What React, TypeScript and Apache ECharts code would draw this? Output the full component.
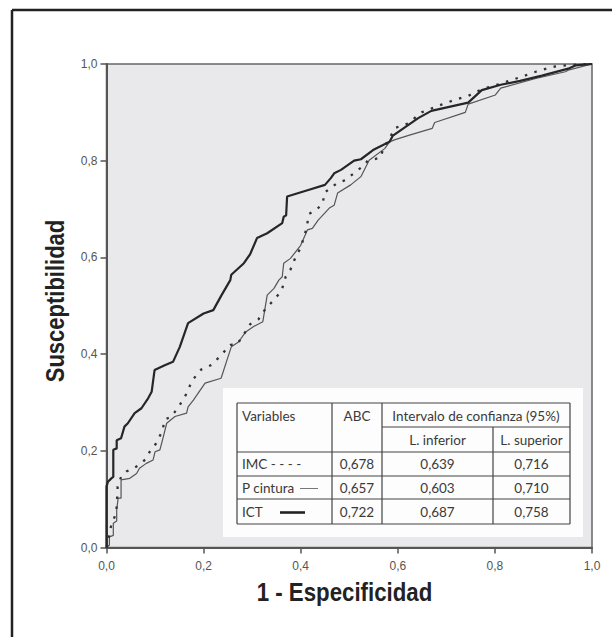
import React, { useEffect, useRef } from "react";
import * as echarts from "echarts";

const xTicks = [0, 0.2, 0.4, 0.6, 0.8, 1.0];
const seriesNames = ["P cintura", "IMC", "ICT"];

const ictX = [0,0,0.003,0.010,0.014,0.014,0.021,0.021,0.030,0.037,0.044,0.058,0.072,0.086,0.093,0.099,0.120,0.137,0.151,0.168,0.2,0.22,0.237,0.255,0.257,0.283,0.296,0.31,0.331,0.362,0.365,0.37,0.372,0.414,0.45,0.462,0.469,0.483,0.51,0.524,0.549,0.583,0.59,0.642,0.669,0.745,0.773,0.812,0.852,0.897,0.953,0.966,1];
const ictY = [0,0.126,0.136,0.143,0.146,0.202,0.205,0.222,0.226,0.25,0.257,0.278,0.288,0.309,0.322,0.367,0.377,0.384,0.415,0.464,0.484,0.491,0.522,0.553,0.564,0.588,0.607,0.64,0.65,0.671,0.684,0.687,0.726,0.739,0.75,0.764,0.774,0.781,0.8,0.803,0.822,0.839,0.852,0.888,0.903,0.92,0.946,0.957,0.965,0.976,0.991,0.997,1];

const cinX = [0,0.006,0.006,0.014,0.014,0.021,0.021,0.024,0.03,0.03,0.048,0.062,0.068,0.082,0.096,0.1,0.11,0.117,0.124,0.141,0.165,0.168,0.179,0.186,0.203,0.236,0.257,0.272,0.286,0.303,0.322,0.331,0.345,0.355,0.362,0.365,0.379,0.4,0.414,0.424,0.436,0.459,0.469,0.476,0.503,0.524,0.541,0.573,0.583,0.593,0.624,0.671,0.676,0.739,0.745,0.801,0.812,0.884,0.945,0.953,1];
const cinY = [0,0.005,0.022,0.025,0.05,0.055,0.078,0.102,0.102,0.14,0.143,0.153,0.164,0.174,0.181,0.198,0.202,0.229,0.257,0.271,0.278,0.291,0.305,0.315,0.34,0.35,0.415,0.425,0.445,0.457,0.467,0.522,0.536,0.553,0.56,0.588,0.598,0.625,0.657,0.66,0.677,0.702,0.708,0.733,0.75,0.767,0.801,0.825,0.839,0.843,0.853,0.867,0.879,0.9,0.917,0.936,0.95,0.97,0.984,0.988,1];

const imcX = [0,0.003,0.006,0.01,0.017,0.021,0.023,0.03,0.041,0.055,0.068,0.082,0.089,0.102,0.116,0.119,0.134,0.151,0.162,0.177,0.195,0.217,0.236,0.255,0.269,0.286,0.296,0.313,0.327,0.341,0.355,0.362,0.369,0.379,0.39,0.4,0.412,0.417,0.432,0.446,0.448,0.474,0.492,0.512,0.53,0.538,0.564,0.57,0.595,0.621,0.649,0.69,0.718,0.745,0.773,0.808,0.856,0.884,0.918,0.953,1];
const imcY = [0,0.009,0.029,0.047,0.064,0.084,0.126,0.146,0.157,0.164,0.171,0.184,0.198,0.215,0.243,0.264,0.271,0.295,0.313,0.346,0.368,0.378,0.398,0.419,0.42,0.446,0.462,0.472,0.493,0.508,0.524,0.536,0.56,0.575,0.602,0.62,0.66,0.69,0.698,0.712,0.733,0.753,0.76,0.776,0.79,0.8,0.806,0.824,0.868,0.877,0.9,0.916,0.926,0.934,0.948,0.958,0.974,0.984,0.994,0.998,1];

const tableHeader = ["Variables", "ABC", "Intervalo de confianza (95%)", "L. inferior", "L. superior"];
const rowLabels = ["IMC - - - -", "P cintura", "ICT"];
const abcValues = ["0,678", "0,657", "0,722"];
const lowerValues = ["0,639", "0,603", "0,687"];
const upperValues = ["0,716", "0,710", "0,758"];

const zip = (xs: number[], ys: number[]) => xs.map((x, i) => [x, ys[i]]);

export default function App() {
  const ref = useRef<HTMLDivElement>(null);
  useEffect(() => {
    if (!ref.current) return;
    const chart = echarts.init(ref.current, null, { renderer: "svg" });
    const tf = "Lato, 'Open Sans', sans-serif";
    const tc = "#3a3a3a";
    const tfs = 13.5;
    const lineC = "#444";
    const colCenters = [357, 437.5, 531.5];
    const rowY = [464, 488, 511.5];
    const graphics: any[] = [];
    // outer frame
    graphics.push({ type: "line", z: 100, shape: { x1: 12, y1: 10, x2: 612, y2: 10 }, style: { stroke: "#222", lineWidth: 2.5 } });
    graphics.push({ type: "line", z: 100, shape: { x1: 12, y1: 10, x2: 12, y2: 637 }, style: { stroke: "#222", lineWidth: 2.5 } });
    // axis titles
    const titleFont = "bold 25px 'Liberation Sans', Arial, sans-serif";
    graphics.push({ type: "text", z: 100, x: 344.5, y: 593, scaleX: 0.89, style: { text: "1 - Especificidad", font: titleFont, fill: "#222", align: "center", verticalAlign: "middle" } });
    graphics.push({ type: "text", z: 100, x: 56, y: 301, rotation: Math.PI / 2, scaleX: 0.88, style: { text: "Susceptibilidad", font: titleFont, fill: "#222", align: "center", verticalAlign: "middle" } });
    // table box
    graphics.push({ type: "rect", z: 100, shape: { x: 223, y: 388, width: 360, height: 149 }, style: { fill: "#fdfdfd" } });
    const L = (x1: number, y1: number, x2: number, y2: number, w = 1.2, c = lineC) =>
      graphics.push({ type: "line", z: 101, shape: { x1, y1, x2, y2 }, style: { stroke: c, lineWidth: w } });
    L(237, 403, 570, 403);
    L(237, 524, 570, 524);
    L(237, 403, 237, 524);
    L(570, 403, 570, 524);
    L(332, 403, 332, 524);
    L(382, 403, 382, 524);
    L(493, 427, 493, 524);
    L(382, 427, 570, 427);
    L(237, 452, 570, 452);
    L(237, 476, 570, 476);
    L(237, 499, 570, 499);
    const T = (text: string, x: number, y: number, align = "center") =>
      graphics.push({ type: "text", z: 102, x, y, style: { text, font: `${tfs}px ${tf}`, fill: tc, align, verticalAlign: "middle" } });
    T(tableHeader[0], 242, 416, "left");
    T(tableHeader[1], 357, 416);
    T(tableHeader[2], 476, 416);
    T(tableHeader[3], 437.5, 440);
    T(tableHeader[4], 531.5, 440);
    rowLabels.forEach((r, i) => T(r, 242, rowY[i], "left"));
    abcValues.forEach((v, i) => T(v, colCenters[0], rowY[i]));
    lowerValues.forEach((v, i) => T(v, colCenters[1], rowY[i]));
    upperValues.forEach((v, i) => T(v, colCenters[2], rowY[i]));
    L(300, 488.5, 318, 488.5, 1, "#777");
    L(280, 512.5, 305, 512.5, 2.6, "#222");

    const labelFmt = (v: number) => v.toFixed(1).replace(".", ",");
    const axisCommon = {
      type: "value",
      min: 0,
      max: 1,
      interval: 0.2,
      splitLine: { show: false },
      axisLine: { show: true, lineStyle: { color: "#555", width: 2 } },
      axisTick: { show: true, length: 6, lineStyle: { color: "#555", width: 1.5 } },
    };
    chart.setOption({
      animation: false,
      backgroundColor: "#fff",
      grid: {
        left: 106.5,
        right: 20,
        top: 64,
        bottom: 89.5,
        show: true,
        backgroundColor: "#e9e9eb",
        borderColor: "#666",
        borderWidth: 1.5,
      },
      xAxis: {
        ...axisCommon,
        axisLabel: { formatter: labelFmt, color: "#555", fontSize: 12, fontFamily: "Liberation Sans, sans-serif", margin: 12 },
      },
      yAxis: {
        ...axisCommon,
        axisLabel: { formatter: labelFmt, color: "#555", fontSize: 12, fontFamily: "Liberation Sans, sans-serif", margin: 9 },
      },
      series: [
        {
          name: seriesNames[0],
          type: "line",
          data: zip(cinX, cinY),
          showSymbol: false,
          lineStyle: { color: "#555", width: 1.2 },
          z: 2,
        },
        {
          name: seriesNames[1],
          type: "line",
          data: zip(imcX, imcY),
          showSymbol: false,
          lineStyle: { color: "#333", width: 2.3, type: [2.5, 7.5] },
          z: 3,
        },
        {
          name: seriesNames[2],
          type: "line",
          data: zip(ictX, ictY),
          showSymbol: false,
          lineStyle: { color: "#262626", width: 2.2 },
          z: 4,
        },
      ],
      graphic: { elements: graphics },
    });
    return () => chart.dispose();
  }, []);
  return <div ref={ref} style={{ position: "absolute", left: 0, top: 0, width: 612, height: 637 }} />;
}
